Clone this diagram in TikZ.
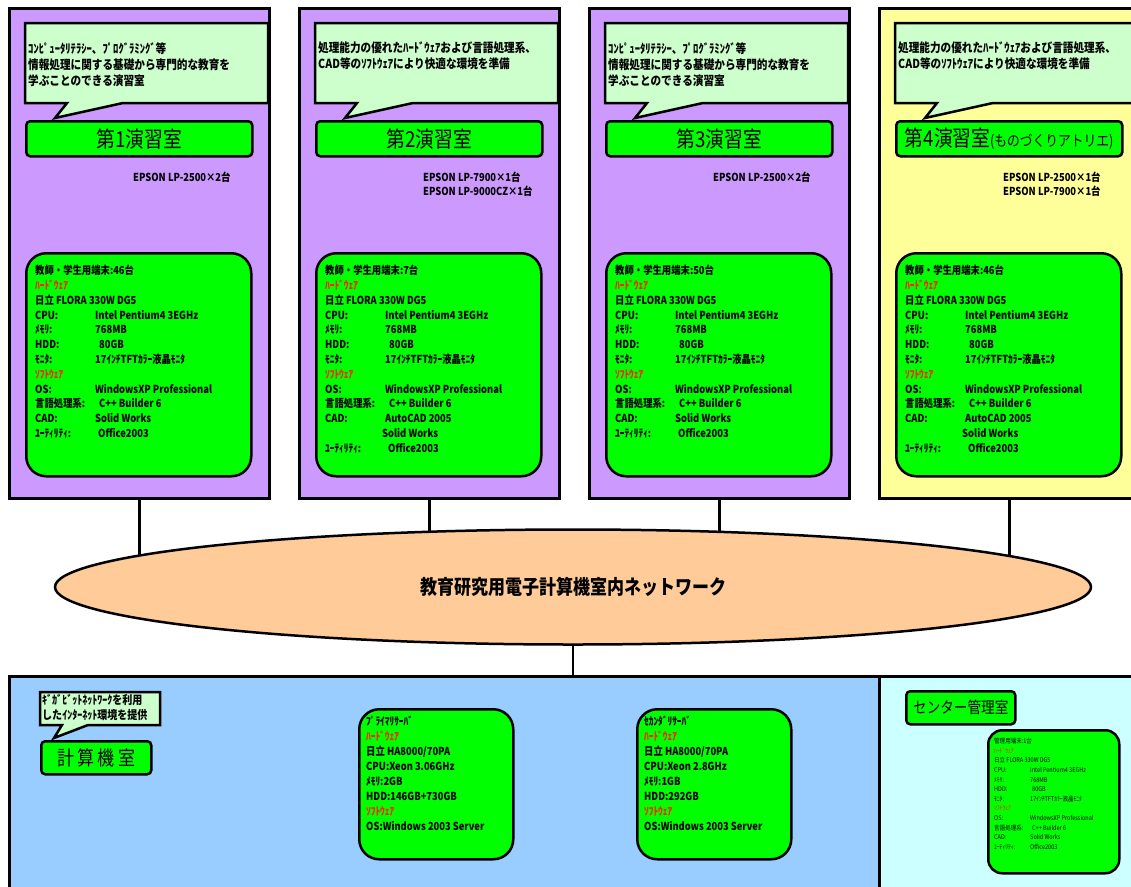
\documentclass[tikz,border=0pt]{standalone}
\usepackage{fontspec}
\setmainfont{Noto Sans CJK JP}[FakeStretch=0.85]
\usetikzlibrary{shapes.geometric}
\pgfdeclarelayer{bg}
\pgfsetlayers{bg,main}
\definecolor{purp}{HTML}{CC99FF}
\definecolor{yel}{HTML}{FFFF99}
\definecolor{callfill}{HTML}{CCFFCC}
\definecolor{grn}{HTML}{00FF00}
\definecolor{peach}{HTML}{FFCC99}
\definecolor{skyb}{HTML}{99CCFF}
\definecolor{cyanl}{HTML}{CCFFFF}
\definecolor{redt}{HTML}{FF2200}
\tikzset{
 panel/.style={draw=black,line width=3pt,anchor=north west,minimum width=260pt,minimum height=490pt,inner sep=0pt},
 callout/.style={draw=black,fill=callfill,line width=2.5pt,line join=miter},
 calltext/.style={anchor=north west,inner sep=0pt,align=left,font=\fontsize{12.5}{16}\selectfont\bfseries},
 titlebox/.style={draw=black,fill=grn,line width=2.5pt,rounded corners=4pt,anchor=north west,inner sep=0pt,font=\fontsize{22}{22}\selectfont},
 printer/.style={anchor=north west,inner sep=0pt,align=left,font=\fontsize{11}{14}\selectfont\bfseries},
 infobox/.style={draw=black,fill=grn,line width=2.5pt,rounded corners=20pt,anchor=north west,inner sep=0pt},
 infotext/.style={anchor=north west,inner sep=0pt,align=left,font=\fontsize{11}{14.8}\selectfont\bfseries},
 conn/.style={draw=black,line width=2.5pt},
}
\newcommand\specrow[2]{\makebox[60pt][l]{#1}#2\\}
\newcommand\hwline{{\color{redt}ﾊｰﾄﾞｳｪｱ}\\}
\newcommand\swline{{\color{redt}ｿﾌﾄｳｪｱ}\\}
\newcommand\Room[6]{%
 \begin{scope}[xshift=#1pt]
 \node[panel,fill=#3] (room#2) at (8,-7) {};
 \draw[callout] (25,-23) -- (268,-23) -- (268,-103) -- (123,-103) -- (55,-118) -- (67,-103) -- (25,-103) -- cycle;
 \node[calltext] (callt#2) at (28,-42) {#4};
 \node[titlebox,minimum width=226pt,minimum height=35pt] (title#2) at (25,-120) {#5};
 \node[printer] (prn#2) at (133,-172) {#6};
 \end{scope}}
\newcommand\Info[3]{%
 \begin{scope}[xshift=#1pt]
 \node[infobox,minimum width=225pt,minimum height=223pt] (info#2) at (25,-252) {};
 \node[infotext] (infot#2) at (35,-265) {#3};
 \end{scope}}
\newcommand\calltextA{ｺﾝﾋﾟｭｰﾀﾘﾃﾗｼｰ、ﾌﾟﾛｸﾞﾗﾐﾝｸﾞ等\\情報処理に関する基礎から専門的な教育を\\学ぶことのできる演習室}
\newcommand\calltextB{処理能力の優れたﾊｰﾄﾞｳｪｱおよび言語処理系、\\CAD等のｿﾌﾄｳｪｱにより快適な環境を準備}
\newcommand\infoA[1]{教師・学生用端末:#1台\\
\hwline
日立 FLORA 330W DG5\\
\specrow{CPU:}{Intel Pentium4 3EGHz}
\specrow{ﾒﾓﾘ:}{768MB}
\specrow{HDD:}{\hspace{4pt}80GB}
\specrow{ﾓﾆﾀ:}{17ｲﾝﾁTFTｶﾗｰ液晶ﾓﾆﾀ}
\swline
\specrow{OS:}{WindowsXP Professional}
\specrow{言語処理系:}{\hspace{4pt}C++ Builder 6}
\specrow{CAD:}{Solid Works}
\makebox[60pt][l]{ﾕｰﾃｨﾘﾃｨ:}\hspace{3pt}Office2003}
\newcommand\infoB[1]{教師・学生用端末:#1台\\
\hwline
日立 FLORA 330W DG5\\
\specrow{CPU:}{Intel Pentium4 3EGHz}
\specrow{ﾒﾓﾘ:}{768MB}
\specrow{HDD:}{\hspace{4pt}80GB}
\specrow{ﾓﾆﾀ:}{17ｲﾝﾁTFTｶﾗｰ液晶ﾓﾆﾀ}
\swline
\specrow{OS:}{WindowsXP Professional}
\specrow{言語処理系:}{\hspace{4pt}C++ Builder 6}
\specrow{CAD:}{AutoCAD 2005}
\specrow{}{\hspace{-3pt}Solid Works}
\makebox[60pt][l]{ﾕｰﾃｨﾘﾃｨ:}\hspace{3pt}Office2003}
\begin{document}
\begin{tikzpicture}[x=1pt,y=1pt]
\useasboundingbox (0,0) rectangle (1131,-886);
\clip (0,0) rectangle (1131,-886);
\begin{pgfonlayer}{bg}
\fill[white] (0,0) rectangle (1131,-886);
\end{pgfonlayer}
% rooms
\Room{0}{1}{purp}{\calltextA}{第1演習室}{EPSON LP-2500×2台}
\Room{290}{2}{purp}{\calltextB}{第2演習室}{EPSON LP-7900×1台\\EPSON LP-9000CZ×1台}
\Room{580}{3}{purp}{\calltextA}{第3演習室}{EPSON LP-2500×2台}
\Room{870}{4}{yel}{\calltextB}{第4演習室{\fontsize{15}{15}\selectfont(ものづくりアトリエ)}}{EPSON LP-2500×1台\\EPSON LP-7900×1台}
\Info{0}{1}{\infoA{46}}
\Info{290}{2}{\infoB{7}}
\Info{580}{3}{\infoA{50}}
\Info{870}{4}{\infoB{46}}
% network
\node[ellipse,draw=black,fill=peach,line width=2.5pt,minimum width=1036pt,minimum height=115pt,inner sep=0pt,font=\fontsize{20}{20}\selectfont\bfseries] (net) at (573,-587) {教育研究用電子計算機室内ネットワーク};
% bottom panels
\node[draw=black,fill=skyb,line width=3pt,anchor=north west,minimum width=870pt,minimum height=230pt,inner sep=0pt] (comp) at (8,-675) {};
\node[draw=black,fill=cyanl,line width=3pt,anchor=north west,minimum width=262pt,minimum height=230pt,inner sep=0pt] (center) at (878,-675) {};
\begin{pgfonlayer}{bg}
\draw[conn] (room1.south) -- (room1.south |- net.center);
\draw[conn] (room2.south) -- (room2.south |- net.center);
\draw[conn] (room3.south) -- (room3.south |- net.center);
\draw[conn] (room4.south) -- (room4.south |- net.center);
\draw[conn] (net.center) -- (net.center |- comp.north);
\end{pgfonlayer}
% computer room callout
\draw[callout] (40,-692) -- (160,-692) -- (160,-725) -- (88,-725) -- (54,-738) -- (62,-725) -- (40,-725) -- cycle;
\node[anchor=north west,inner sep=0pt,align=left,font=\fontsize{11.8}{15}\selectfont\bfseries] (compcall) at (42,-694) {ｷﾞｶﾞﾋﾞｯﾄﾈｯﾄﾜｰｸを利用\\したｲﾝﾀｰﾈｯﾄ環境を提供};
\node[titlebox,minimum width=110pt,minimum height=33pt,font=\fontsize{20}{20}\selectfont] (comptitle) at (40,-740) {計\,算\,機\,室};
% servers
\node[infobox,minimum width=154pt,minimum height=150pt] (srv1) at (358,-708) {};
\node[anchor=north west,inner sep=0pt,align=left,font=\fontsize{11}{15}\selectfont\bfseries] (srv1t) at (366,-716) {ﾌﾟﾗｲﾏﾘｻｰﾊﾞ\\ \hwline 日立 HA8000/70PA\\CPU:Xeon 3.06GHz\\ﾒﾓﾘ:2GB\\HDD:146GB+730GB\\ \swline OS:Windows 2003 Server};
\node[infobox,minimum width=154pt,minimum height=150pt] (srv2) at (636,-708) {};
\node[anchor=north west,inner sep=0pt,align=left,font=\fontsize{11}{15}\selectfont\bfseries] (srv2t) at (644,-716) {ｾｶﾝﾀﾞﾘｻｰﾊﾞ\\ \hwline 日立 HA8000/70PA\\CPU:Xeon 2.8GHz\\ﾒﾓﾘ:1GB\\HDD:292GB\\ \swline OS:Windows 2003 Server};
% center management room
\node[titlebox,minimum width=109pt,minimum height=33pt,font=\fontsize{16}{16}\selectfont] (ctitle) at (905,-690) {センター管理室};
\node[infobox,rounded corners=14pt,minimum width=131pt,minimum height=143pt] (cbox) at (987,-729) {};
\node[anchor=north west,inner sep=0pt,align=left,font=\fontsize{6.5}{9.6}\selectfont] (cboxt) at (994,-738) {管理用端末:1台\\
{\color{redt}ﾊｰﾄﾞｳｪｱ}\\
日立 FLORA 330W DG5\\
\makebox[36pt][l]{CPU:}Intel Pentium4 3EGHz\\
\makebox[36pt][l]{ﾒﾓﾘ:}768MB\\
\makebox[36pt][l]{HDD:}\hspace{2pt}80GB\\
\makebox[36pt][l]{ﾓﾆﾀ:}17ｲﾝﾁTFTｶﾗｰ液晶ﾓﾆﾀ\\
{\color{redt}ｿﾌﾄｳｪｱ}\\
\makebox[36pt][l]{OS:}WindowsXP Professional\\
\makebox[36pt][l]{言語処理系:}\hspace{2pt}C++ Builder 6\\
\makebox[36pt][l]{CAD:}Solid Works\\
\makebox[36pt][l]{ﾕｰﾃｨﾘﾃｨ:}Office2003};
\end{tikzpicture}
\end{document}
